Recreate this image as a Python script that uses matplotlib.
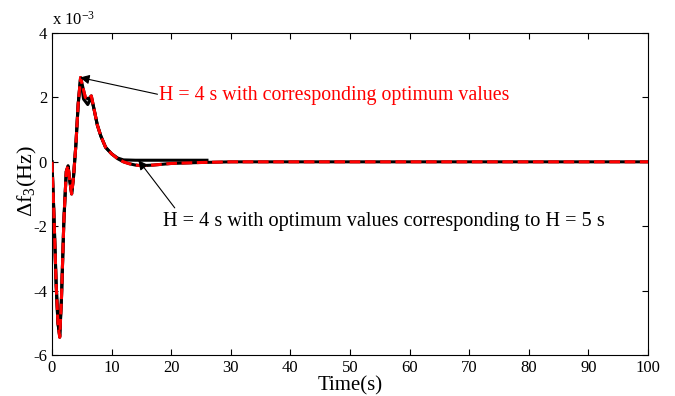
import matplotlib
matplotlib.use("Agg")
import matplotlib.pyplot as plt

plt.rcParams['font.family'] = ['Liberation Serif', 'DejaVu Serif']
plt.rcParams['mathtext.fontset'] = 'custom'
plt.rcParams['mathtext.rm'] = 'Liberation Serif'
plt.rcParams['mathtext.it'] = 'Liberation Serif:italic'
plt.rcParams['axes.unicode_minus'] = False

# frequency deviation of area 3 (units of 1e-3 Hz)
t_opt4 = [0, 0.3, 0.7, 1.0, 1.3, 1.6, 2.0, 2.4, 2.7, 3.0, 3.3, 3.6, 4.0, 4.4,
          4.8, 5.2, 5.6, 6.1, 6.6, 7.1, 7.6, 8.2, 9.0, 10, 11, 12, 13, 14,
          15, 17, 20, 25, 30, 100]
df_opt4 = [0, -1.5, -3.8, -5.0, -5.45, -4.2, -1.8, -0.3, -0.12, -0.6, -1.0,
           -0.5, 0.5, 1.8, 2.62, 2.3, 2.0, 1.95, 2.05, 1.6, 1.15, 0.8, 0.45,
           0.25, 0.1, 0.0, -0.06, -0.1, -0.12, -0.1, -0.05, -0.02, 0, 0]

t_opt5 = [0, 0.3, 0.7, 1.0, 1.3, 1.6, 2.0, 2.4, 2.7, 3.0, 3.3, 3.6, 4.0, 4.4,
          4.8, 5.3, 6.0, 6.6, 7.1, 7.6, 8.2, 9.0, 10, 11, 12, 14, 17, 20, 26]
df_opt5 = [0, -1.5, -3.8, -5.0, -5.4, -4.2, -1.8, -0.3, -0.15, -0.6, -0.98,
           -0.5, 0.5, 1.8, 2.6, 1.95, 1.78, 2.0, 1.6, 1.15, 0.8, 0.45, 0.25,
           0.12, 0.06, 0.05, 0.05, 0.05, 0.05]

fig = plt.figure(figsize=(6.75, 3.96), dpi=100)
ax = fig.add_axes([0.077, 0.1035, 0.883, 0.813])

ax.plot(t_opt5, df_opt5, color='black', lw=2.2, zorder=3)
ax.plot(t_opt4, df_opt4, color='black', lw=2.2, zorder=2)
ax.plot(t_opt4, df_opt4, color='red', lw=2.2, ls=(0, (3.5, 1.5)), zorder=4)

ax.set_xlim(0, 100)
ax.set_ylim(-6, 4)
ax.set_xticks(range(0, 101, 10))
ax.set_yticks(range(-6, 5, 2))
ax.tick_params(direction='in', top=True, right=True, length=4, labelsize=12)
ax.set_xlabel('Time(s)', fontsize=15, labelpad=0.5)
ax.set_ylabel('Δf$_{\\mathrm{3}}$(Hz)', fontsize=16)
ax.yaxis.set_label_coords(-0.022, 0.54)
ax.text(0, 1.015, 'x 10$^{-3}$', transform=ax.transAxes, fontsize=12,
        ha='left', va='bottom')

arrow = dict(arrowstyle='-|>', color='black', lw=0.8, mutation_scale=14,
             shrinkA=0, shrinkB=0)
ax.annotate('', xy=(4.7, 2.62), xytext=(17.7, 2.1), arrowprops=arrow,
            zorder=5)
ax.text(17.9, 2.07, 'H = 4 s with corresponding optimum values',
        color='red', fontsize=14.3, va='center')
ax.annotate('', xy=(14.5, 0.05), xytext=(20.6, -1.43), arrowprops=arrow,
            zorder=5)
ax.text(18.6, -1.85, 'H = 4 s with optimum values corresponding to H = 5 s',
        fontsize=14.6, va='center')

fig.savefig('out.png', dpi=100)
